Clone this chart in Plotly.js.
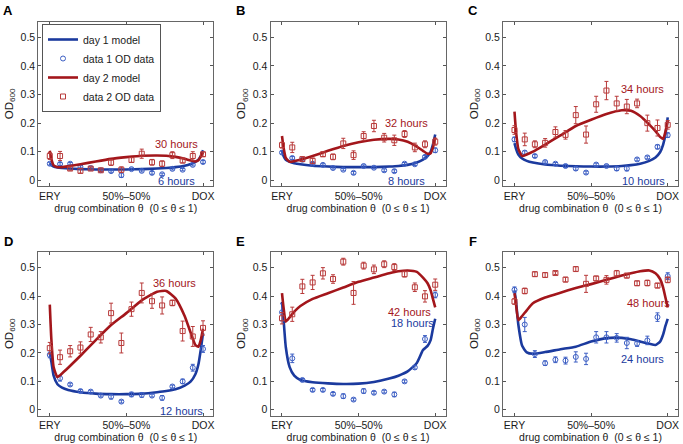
<!DOCTYPE html>
<html>
<head>
<meta charset="utf-8">
<script src="https://cdn.plot.ly/plotly-3.0.1.min.js"></script>
<style>
  body { margin: 0; background: #fff; }
  #plot { width: 683px; height: 444px; }
</style>
</head>
<body>
<div id="plot"></div>
<script>
// drug combination theta for measured points (ERY = 0, DOX = 1)
const theta = [0, 0.067, 0.133, 0.2, 0.267, 0.333, 0.4, 0.467, 0.533, 0.6, 0.667, 0.733, 0.8, 0.867, 0.933, 1];
// theta grid for the model curves
const modelTheta = [0, 0.01, 0.025, 0.05, 0.08, 0.12, 0.2, 0.3, 0.4, 0.5, 0.6, 0.7, 0.76, 0.82, 0.88, 0.92, 0.95, 0.97, 0.985, 1];

const xTickVals = [0, 0.5, 1];
const xTickText = ["ERY", "50%\u201350%", "DOX"];
const yTickVals = [0, 0.1, 0.2, 0.3, 0.4, 0.5];
const panelLetters = ["A", "B", "C", "D", "E", "F"];
const day1Hours = ["6 hours", "8 hours", "10 hours", "12 hours", "18 hours", "24 hours"];
const day2Hours = ["30 hours", "32 hours", "34 hours", "36 hours", "42 hours", "48 hours"];

// Panel A
const aDay1 = [0.058, 0.057, 0.058, 0.047, 0.043, 0.035, 0.032, 0.018, 0.039, 0.033, 0.026, 0.021, 0.040, 0.037, 0.054, 0.064];
const aDay1Err = [0.005, 0.005, 0.004, 0.004, 0.004, 0.004, 0.004, 0.008, 0.004, 0.004, 0.005, 0.004, 0.004, 0.004, 0.004, 0.005];
const aDay2 = [0.085, 0.085, 0.041, 0.033, 0.041, 0.035, 0.062, 0.037, 0.071, 0.093, 0.063, 0.058, 0.088, 0.069, 0.085, 0.091];
const aDay2Err = [0.012, 0.016, 0.006, 0.008, 0.005, 0.005, 0.01, 0.01, 0.008, 0.016, 0.01, 0.01, 0.012, 0.008, 0.015, 0.008];
const aModel1 = [0.060, 0.053, 0.048, 0.045, 0.043, 0.041, 0.039, 0.038, 0.038, 0.038, 0.039, 0.041, 0.043, 0.046, 0.051, 0.057, 0.064, 0.072, 0.085, 0.105];
const aModel2 = [0.103, 0.075, 0.052, 0.046, 0.046, 0.049, 0.056, 0.066, 0.075, 0.081, 0.086, 0.087, 0.086, 0.082, 0.075, 0.069, 0.066, 0.070, 0.083, 0.098];

// Panel B
const bDay1 = [0.097, 0.078, 0.072, 0.058, 0.054, 0.043, 0.037, 0.026, 0.050, 0.044, 0.035, 0.032, 0.058, 0.056, 0.082, 0.105];
const bDay1Err = [0.005, 0.005, 0.004, 0.004, 0.004, 0.004, 0.004, 0.005, 0.004, 0.004, 0.005, 0.005, 0.004, 0.004, 0.005, 0.008];
const bDay2 = [0.123, 0.115, 0.074, 0.068, 0.091, 0.082, 0.129, 0.088, 0.155, 0.190, 0.149, 0.140, 0.162, 0.115, 0.126, 0.135];
const bDay2Err = [0.01, 0.018, 0.008, 0.01, 0.008, 0.01, 0.018, 0.015, 0.015, 0.02, 0.015, 0.018, 0.012, 0.015, 0.012, 0.012];
const bModel1 = [0.105, 0.085, 0.072, 0.065, 0.060, 0.056, 0.051, 0.048, 0.046, 0.046, 0.046, 0.048, 0.050, 0.054, 0.062, 0.072, 0.085, 0.100, 0.125, 0.160];
const bModel2 = [0.155, 0.115, 0.078, 0.065, 0.067, 0.072, 0.085, 0.103, 0.120, 0.133, 0.142, 0.145, 0.143, 0.135, 0.118, 0.103, 0.093, 0.095, 0.115, 0.150];

// Panel C
const cDay1 = [0.143, 0.097, 0.085, 0.064, 0.058, 0.050, 0.041, 0.027, 0.055, 0.050, 0.041, 0.041, 0.073, 0.080, 0.117, 0.158];
const cDay1Err = [0.008, 0.006, 0.005, 0.004, 0.004, 0.005, 0.006, 0.005, 0.005, 0.004, 0.007, 0.008, 0.005, 0.005, 0.007, 0.008];
const cDay2 = [0.176, 0.143, 0.126, 0.131, 0.169, 0.159, 0.228, 0.160, 0.266, 0.314, 0.269, 0.258, 0.269, 0.200, 0.183, 0.194];
const cDay2Err = [0.015, 0.022, 0.012, 0.015, 0.018, 0.015, 0.03, 0.03, 0.028, 0.032, 0.025, 0.025, 0.015, 0.028, 0.028, 0.015];
const cModel1 = [0.130, 0.110, 0.090, 0.076, 0.068, 0.062, 0.055, 0.051, 0.049, 0.048, 0.048, 0.050, 0.053, 0.058, 0.068, 0.080, 0.098, 0.125, 0.160, 0.220];
const cModel2 = [0.240, 0.170, 0.110, 0.085, 0.090, 0.100, 0.125, 0.157, 0.190, 0.212, 0.232, 0.245, 0.243, 0.225, 0.195, 0.172, 0.152, 0.145, 0.170, 0.210];

// Panel D
const dDay1 = [0.193, 0.111, 0.089, 0.066, 0.064, 0.050, 0.046, 0.029, 0.054, 0.052, 0.050, 0.042, 0.082, 0.100, 0.148, 0.214];
const dDay1Err = [0.01, 0.01, 0.005, 0.005, 0.005, 0.005, 0.008, 0.005, 0.008, 0.008, 0.005, 0.008, 0.005, 0.008, 0.012, 0.012];
const dDay2 = [0.217, 0.185, 0.206, 0.219, 0.265, 0.255, 0.340, 0.235, 0.354, 0.411, 0.382, 0.367, 0.376, 0.277, 0.258, 0.288];
const dDay2Err = [0.02, 0.025, 0.02, 0.02, 0.025, 0.02, 0.035, 0.035, 0.025, 0.035, 0.025, 0.03, 0.01, 0.035, 0.035, 0.025];
const dModel1 = [0.200, 0.170, 0.120, 0.090, 0.078, 0.070, 0.062, 0.057, 0.055, 0.055, 0.057, 0.062, 0.066, 0.072, 0.085, 0.100, 0.125, 0.160, 0.210, 0.270];
const dModel2 = [0.370, 0.250, 0.150, 0.115, 0.128, 0.148, 0.190, 0.245, 0.298, 0.340, 0.385, 0.415, 0.418, 0.392, 0.330, 0.270, 0.228, 0.222, 0.245, 0.285];

// Panel E
const eDay1 = [0.343, 0.181, 0.105, 0.070, 0.070, 0.056, 0.048, 0.036, 0.066, 0.060, 0.064, 0.054, 0.100, 0.149, 0.249, 0.404];
const eDay1Err = [0.03, 0.015, 0.005, 0.005, 0.005, 0.005, 0.008, 0.005, 0.008, 0.005, 0.005, 0.008, 0.005, 0.006, 0.012, 0.01];
const eDay2 = [0.322, 0.336, 0.434, 0.448, 0.480, 0.460, 0.521, 0.411, 0.507, 0.494, 0.512, 0.502, 0.477, 0.431, 0.399, 0.440];
const eDay2Err = [0.02, 0.025, 0.025, 0.025, 0.02, 0.015, 0.012, 0.04, 0.012, 0.015, 0.012, 0.012, 0.01, 0.015, 0.02, 0.02];
const eModel1 = [0.380, 0.320, 0.220, 0.150, 0.120, 0.105, 0.097, 0.093, 0.091, 0.092, 0.098, 0.110, 0.120, 0.135, 0.165, 0.210, 0.225, 0.245, 0.285, 0.320];
const eModel2 = [0.410, 0.360, 0.310, 0.325, 0.345, 0.365, 0.390, 0.410, 0.430, 0.450, 0.465, 0.480, 0.487, 0.490, 0.485, 0.465, 0.445, 0.420, 0.390, 0.360];

// Panel F
const fDay1 = [0.422, 0.300, 0.196, 0.164, 0.176, 0.173, 0.186, 0.179, 0.255, 0.255, 0.253, 0.235, 0.233, 0.244, 0.326, 0.470];
const fDay1Err = [0.01, 0.025, 0.012, 0.008, 0.01, 0.012, 0.018, 0.02, 0.02, 0.02, 0.015, 0.02, 0.01, 0.015, 0.015, 0.012];
const fDay2 = [0.381, 0.418, 0.477, 0.474, 0.481, 0.458, 0.495, 0.443, 0.462, 0.457, 0.480, 0.472, 0.445, 0.446, 0.437, 0.457];
const fDay2Err = [0.01, 0.01, 0.008, 0.008, 0.005, 0.008, 0.008, 0.03, 0.008, 0.015, 0.01, 0.008, 0.008, 0.01, 0.008, 0.01];
const fModel1 = [0.420, 0.380, 0.300, 0.225, 0.202, 0.197, 0.203, 0.213, 0.222, 0.240, 0.252, 0.253, 0.248, 0.240, 0.232, 0.228, 0.240, 0.265, 0.295, 0.320];
const fModel2 = [0.410, 0.370, 0.315, 0.330, 0.350, 0.375, 0.395, 0.412, 0.428, 0.442, 0.457, 0.472, 0.480, 0.487, 0.490, 0.480, 0.460, 0.430, 0.395, 0.360];

// where the "xx hours" labels sit, in data units of each panel
const day2LabelX = [0.83, 0.81, 0.835, 0.815, 0.835, 0.875];
const day2LabelY = [0.126, 0.2, 0.318, 0.446, 0.345, 0.375];
const day1LabelX = [0.83, 0.81, 0.84, 0.86, 0.85, 0.835];
const day1LabelY = [-0.002, -0.002, -0.002, -0.004, 0.304, 0.179];

const BLUE_LINE = "#1b3a9e";
const BLUE_MARK = "#3d5fc4";
const RED_LINE = "#a3161b";
const RED_MARK = "#b83a3a";

const panels = [
  [aDay1, aDay1Err, aDay2, aDay2Err, aModel1, aModel2],
  [bDay1, bDay1Err, bDay2, bDay2Err, bModel1, bModel2],
  [cDay1, cDay1Err, cDay2, cDay2Err, cModel1, cModel2],
  [dDay1, dDay1Err, dDay2, dDay2Err, dModel1, dModel2],
  [eDay1, eDay1Err, eDay2, eDay2Err, eModel1, eModel2],
  [fDay1, fDay1Err, fDay2, fDay2Err, fModel1, fModel2],
];

// box positions in pixels -> paper fractions
const W = 683, H = 444;
const colX = [[38.3, 213.3], [270.5, 445.5], [503, 678]];
const rowY = [[21.7, 186], [252, 415.5]];

const traces = [];
const annotations = [];
const layout = {
  width: W,
  height: H,
  margin: { l: 0, r: 0, t: 0, b: 0 },
  paper_bgcolor: "#ffffff",
  plot_bgcolor: "#ffffff",
  font: { family: "Liberation Sans, Arial, sans-serif", size: 10.5, color: "#1a1a1a" },
  showlegend: true,
  legend: {
    x: 42 / W,
    y: 1 - 24 / H,
    xanchor: "left",
    yanchor: "top",
    bgcolor: "#ffffff",
    bordercolor: "#555555",
    borderwidth: 1,
    font: { size: 10.5, color: "#1a1a1a" },
    tracegroupgap: 0,
  },
};

panels.forEach((p, i) => {
  const [d1, e1, d2, e2, m1, m2] = p;
  const n = i === 0 ? "" : String(i + 1);
  const xa = "x" + n, ya = "y" + n;
  const col = colX[i % 3], row = rowY[Math.floor(i / 3)];
  const leg = i === 0;

  traces.push({
    x: modelTheta, y: m1, xaxis: xa, yaxis: ya,
    type: "scatter", mode: "lines", name: "day 1 model", showlegend: leg,
    line: { color: BLUE_LINE, width: 2.6, shape: "spline", smoothing: 0.5 },
  });
  traces.push({
    x: theta, y: d1, xaxis: xa, yaxis: ya,
    type: "scatter", mode: "markers", name: "data 1 OD data", showlegend: leg,
    marker: { symbol: "circle-open", size: 5, color: BLUE_MARK, line: { width: 1 } },
    error_y: { type: "data", array: e1, color: BLUE_MARK, thickness: 1, width: 2 },
  });
  traces.push({
    x: modelTheta, y: m2, xaxis: xa, yaxis: ya,
    type: "scatter", mode: "lines", name: "day 2 model", showlegend: leg,
    line: { color: RED_LINE, width: 2.6, shape: "spline", smoothing: 0.5 },
  });
  traces.push({
    x: theta, y: d2, xaxis: xa, yaxis: ya,
    type: "scatter", mode: "markers", name: "data 2 OD data", showlegend: leg,
    marker: { symbol: "square-open", size: 5, color: RED_MARK, line: { width: 1 } },
    error_y: { type: "data", array: e2, color: RED_MARK, thickness: 1, width: 2 },
  });

  layout["xaxis" + n] = {
    domain: [col[0] / W, col[1] / W],
    anchor: ya,
    range: [-0.075, 1.067],
    tickvals: xTickVals,
    ticktext: xTickText,
    ticks: "inside",
    ticklen: 3,
    tickcolor: "#555555",
    showline: true,
    linecolor: "#666666",
    linewidth: 1,
    mirror: "ticks",
    showgrid: false,
    zeroline: false,
    tickfont: { size: 10.5 },
    title: { text: "drug combination \u03b8  (0 \u2264 \u03b8 \u2264 1)", font: { size: 10.5 }, standoff: 2 },
  };
  layout["yaxis" + n] = {
    domain: [1 - row[1] / H, 1 - row[0] / H],
    anchor: xa,
    range: [-0.02, 0.555],
    tickvals: yTickVals,
    ticktext: ["0", "0.1", "0.2", "0.3", "0.4", "0.5"],
    ticks: "inside",
    ticklen: 3,
    tickcolor: "#555555",
    showline: true,
    linecolor: "#666666",
    linewidth: 1,
    mirror: "ticks",
    showgrid: false,
    zeroline: false,
    tickfont: { size: 10.5 },
    title: { text: "OD<sub>600</sub>", font: { size: 11.5 }, standoff: 4 },
  };

  annotations.push({
    xref: "paper", yref: "paper",
    x: (col[0] - 30) / W, y: 1 - (row[0] - 11) / H,
    xanchor: "center", yanchor: "middle",
    text: "<b>" + panelLetters[i] + "</b>", showarrow: false,
    font: { size: 13, color: "#000000" },
  });
  annotations.push({
    xref: xa, yref: ya, x: day2LabelX[i], y: day2LabelY[i],
    text: day2Hours[i], showarrow: false,
    font: { size: 11, color: RED_LINE },
  });
  annotations.push({
    xref: xa, yref: ya, x: day1LabelX[i], y: day1LabelY[i],
    text: day1Hours[i], showarrow: false,
    font: { size: 11, color: BLUE_LINE },
  });
});

layout.annotations = annotations;

Plotly.newPlot("plot", traces, layout, { displayModeBar: false, staticPlot: true });
</script>
</body>
</html>
